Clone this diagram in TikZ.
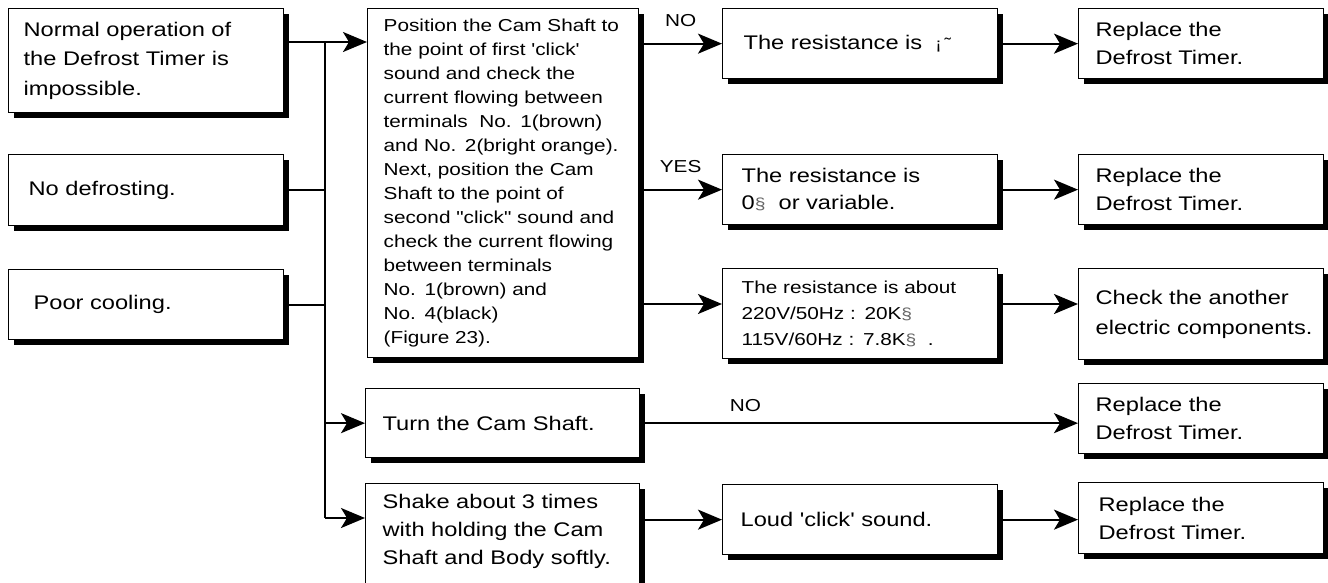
\documentclass[tikz,border=0pt]{standalone}
\usepackage{fontspec}
\newfontfamily\lbsans{Liberation Sans}[FakeStretch=1.2]
\usetikzlibrary{arrows.meta,shadows}
\newcommand\ohmsym{{\fontsize{16}{16}\selectfont\color{black!60}§}}

\begin{document}
\begin{tikzpicture}[x=1pt,y=-1pt,
    box/.style={draw, line width=1.3pt, fill=white, anchor=north west,
      align=left, inner xsep=0pt, inner ysep=0pt,
      font=\lbsans\fontsize{19.7}{28}\selectfont,
      drop shadow={shadow xshift=5pt, shadow yshift=-5pt, fill=black, opacity=1}},
    lpad/.style={execute at begin node={\leftskip=#1\relax}},
    fine/.style={font=\lbsans\fontsize{17.3}{24}\selectfont},
    conn/.style={line width=2pt},
    arr/.style={line width=2pt, -{Stealth[length=24pt, width=20pt, inset=6pt]}},
    lbl/.style={font=\lbsans\fontsize{17.3}{20}\selectfont, inner sep=0pt}]
  \useasboundingbox (0,0) rectangle (1328,582);
  \fill[white] (0,0) rectangle (1328,582);
  \clip (0,0) rectangle (1328,582);

  % symptoms
  \node[box, text width=275pt, minimum height=104pt, lpad=15pt,
    font=\lbsans\fontsize{19.7}{29.5}\selectfont] (A) at (8,8)
    {Normal operation of\\the Defrost Timer is\\impossible.};
  \node[box, text width=275pt, minimum height=71pt, lpad=20pt] (B) at (8,154) {No defrosting.};
  \node[box, text width=275pt, minimum height=70pt, lpad=25pt] (C) at (8,269) {Poor cooling.};

  % checks
  \node[box, fine, text width=271pt, minimum height=349pt, lpad=16pt] (D) at (367,8)
    {Position the Cam Shaft to\\the point of first 'click'\\sound and check the\\current flowing between\\terminals\ \ No. 1(brown)\\and No. 2(bright orange).\\Next, position the Cam\\Shaft to the point of\\second "click" sound and\\check the current flowing\\between terminals\\No. 1(brown) and\\No. 4(black)\\(Figure 23).};
  \node[box, text width=274pt, minimum height=69pt, lpad=17pt] (G) at (365,388) {Turn the Cam Shaft.};
  \node[box, text width=274pt, minimum height=107pt, lpad=17pt] (H) at (365,483)
    {Shake about 3 times\\with holding the Cam\\Shaft and Body softly.\\[-13pt]\mbox{}};

  % results
  \node[box, text width=275pt, minimum height=70pt, lpad=21pt] (E1) at (722,8)
    {The resistance is\ \ {\fontsize{16}{16}\selectfont ¡\,˜}};
  \node[box, text width=275pt, minimum height=70pt, lpad=19pt,
    font=\lbsans\fontsize{19.7}{27}\selectfont] (E2) at (722,154)
    {The resistance is\\0\ohmsym\ \ or variable.};
  \node[box, fine, text width=275pt, minimum height=90pt, lpad=19pt,
    font=\lbsans\fontsize{17.3}{26}\selectfont] (E3) at (722,268)
    {The resistance is about\\220V/50Hz : 20K\ohmsym\\115V/60Hz : 7.8K\ohmsym\ \ .};
  \node[box, text width=275pt, minimum height=70pt, lpad=18pt] (I) at (722,484) {Loud 'click' sound.};

  % actions
  \node[box, text width=245pt, minimum height=70pt, lpad=17pt] (F1) at (1078,8) {Replace the\\Defrost Timer.};
  \node[box, text width=245pt, minimum height=70pt, lpad=17pt] (F2) at (1078,154) {Replace the\\Defrost Timer.};
  \node[box, text width=245pt, minimum height=91pt, lpad=17pt,
    font=\lbsans\fontsize{19.7}{30}\selectfont] (F3) at (1078,268)
    {Check the another\\electric components.};
  \node[box, text width=245pt, minimum height=70pt, lpad=17pt] (F4) at (1078,383) {Replace the\\Defrost Timer.};
  \node[box, text width=245pt, minimum height=71pt, lpad=20pt] (F5) at (1078,482) {Replace the\\Defrost Timer.};

  \coordinate (top) at (325,42);
  \coordinate (bot) at (325,518);
  \coordinate (r3) at (680,304);

  % trunk
  \draw[conn] (top) -- (bot);
  \draw[arr] (A.east |- top) -- (D.west |- top);
  \draw[conn] (B.east) -- (B.east -| top);
  \draw[conn] (C.east) -- (C.east -| top);
  \draw[arr] (G.west -| top) -- (G.west);
  \draw[arr] (bot) -- (H.west |- bot);

  % branches
  \draw[arr] (D.east |- E1.west) -- node[lbl, above=16pt] (no1) {NO} (E1.west);
  \draw[arr] (D.east |- E2.west) -- node[lbl, above=16pt] (yes) {YES} (E2.west);
  \draw[arr] (D.east |- r3) -- (E3.west |- r3);
  \draw[arr] (E1.east) -- (F1.west);
  \draw[arr] (E2.east) -- (F2.west);
  \draw[arr] (E3.east |- r3) -- (F3.west |- r3);
  \draw[arr] (G.east) -- node[lbl, pos=0.24, above=10pt] (no2) {NO} (G.east -| F4.west);
  \draw[arr] (H.east |- I.west) -- (I.west);
  \draw[arr] (I.east) -- (I.east -| F5.west);
\end{tikzpicture}
\end{document}
